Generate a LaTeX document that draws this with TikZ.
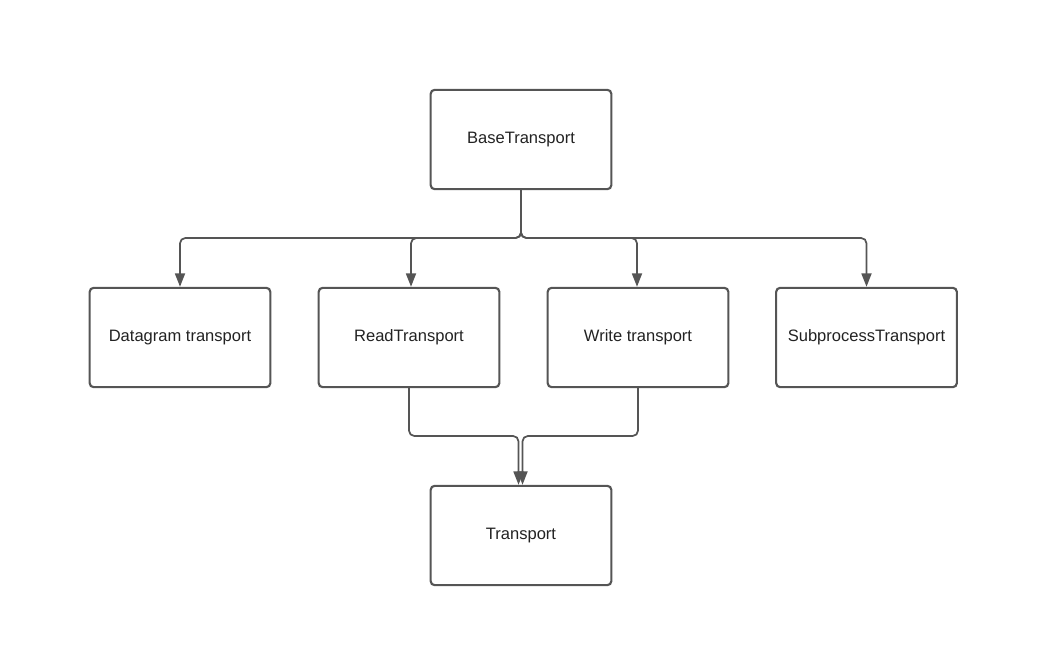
\documentclass[tikz,border=0pt]{standalone}
\usepackage{fontspec}
\setmainfont{Liberation Sans}
\usetikzlibrary{arrows.meta}
\definecolor{edge}{HTML}{555555}
\definecolor{txt}{HTML}{222222}
\begin{document}
\begin{tikzpicture}[x=0.75pt,y=-0.75pt,
  box/.style={draw=edge,line width=1.6pt,rounded corners=3pt,minimum width=135.5pt,minimum height=74.5pt,inner sep=0pt,font=\fontsize{12.4}{15}\selectfont,text=txt},
  conn/.style={draw=edge,line width=1.3pt,rounded corners=4pt},
  arr/.style={conn,-{Triangle[length=10pt,width=7.5pt]}}]
\useasboundingbox (0,0) rectangle (1057,660);
\node[box] (base) at (521,139.5) {BaseTransport};
\node[box] (dg) at (180,337.5) {Datagram transport};
\node[box] (rd) at (409,337.5) {ReadTransport};
\node[box] (wr) at (638,337.5) {Write transport};
\node[box] (sp) at (866.5,337.5) {SubprocessTransport};
\node[box] (tr) at (521,535.5) {Transport};
\coordinate (jt) at (521,238);
\coordinate (jb) at (520.5,436);
\draw[arr] (base.south) -- (jt) -| (dg.north);
\draw[arr] (base.south) -- (jt) -| ([xshift=1.5pt]rd.north);
\draw[arr] (base.south) -- (jt) -| ([xshift=-0.75pt]wr.north);
\draw[arr] (base.south) -- (jt) -| (sp.north);
\draw[arr] (rd.south) |- ([xshift=-1.5pt]jb) -- ([xshift=-1.5pt]jb |- tr.north);
\draw[arr] (wr.south) |- ([xshift=1.5pt]jb) -- ([xshift=1.5pt]jb |- tr.north);
\end{tikzpicture}
\end{document}
